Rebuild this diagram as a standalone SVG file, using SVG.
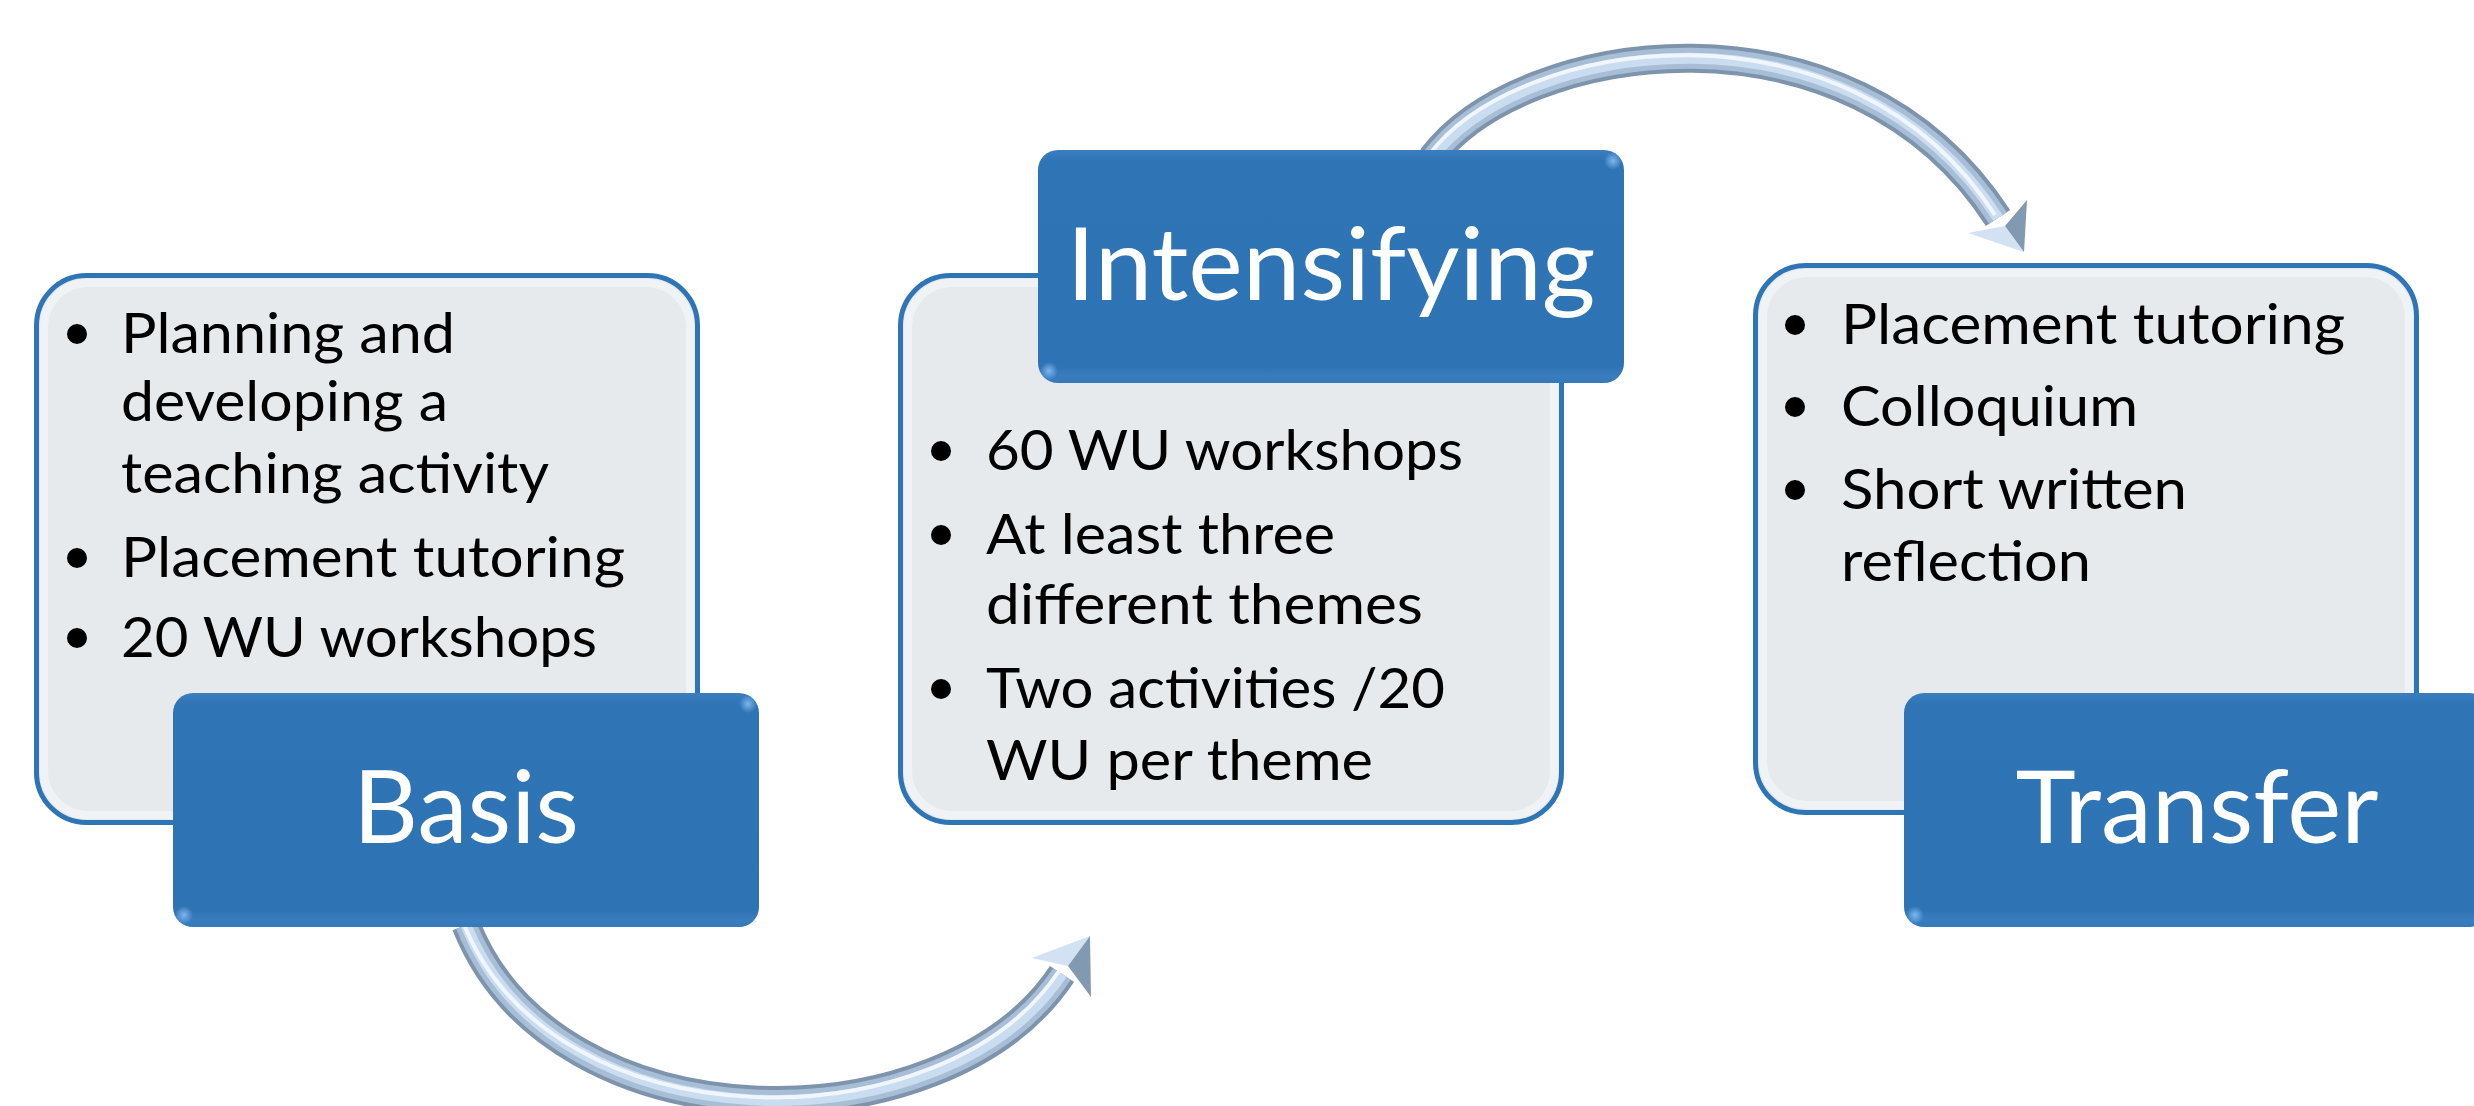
<svg xmlns="http://www.w3.org/2000/svg" width="2474" height="1106" viewBox="0 0 2474 1106">
  <defs>
    <style>
      .panel { fill: #E7EAED; stroke: #2E75B6; stroke-width: 5; }
      .panelGlow { fill: none; stroke: #F3F5F7; stroke-width: 8; opacity: 0.8; }
      .title { fill: url(#darkGrad); }
      .titleText { font-family: Lato, "Open Sans", "Liberation Sans", sans-serif; font-size: 100px; fill: #FFFFFF; text-anchor: middle; }
      .body { font-family: Lato, "Open Sans", "Liberation Sans", sans-serif; font-size: 57px; fill: #000000; }
      .bullet { fill: #000000; }
      .tube1 { fill: none; stroke: #7E94AC; stroke-width: 29; }
      .tube2 { fill: none; stroke: #A8BED7; stroke-width: 21; }
      .tube3 { fill: none; stroke: #CADCEF; stroke-width: 11; }
      .tube4 { fill: none; stroke: #F1F6FC; stroke-width: 4; }
      .headLight { fill: #D3E2F2; }
      .headDark { fill: #8299B2; }
      .glint { fill: url(#glintGrad); }
    </style>
    <linearGradient id="darkGrad" x1="0" y1="0" x2="0" y2="1">
      <stop offset="0" stop-color="#3A7EC0"/>
      <stop offset="0.05" stop-color="#2F74B4"/>
      <stop offset="0.93" stop-color="#2E73B3"/>
      <stop offset="0.97" stop-color="#3A7DBF"/>
      <stop offset="1" stop-color="#3479BA"/>
    </linearGradient>
    <radialGradient id="glintGrad">
      <stop offset="0" stop-color="#7DB6EE"/>
      <stop offset="1" stop-color="#7DB6EE" stop-opacity="0"/>
    </radialGradient>
  </defs>
  <rect x="0" y="0" width="2474" height="1106" fill="#FFFFFF"/>

  <g id="connectors">
    <g id="arrow-basis-intensifying">
      <path class="tube1" d="M 466 925 C 555 1150, 945 1150, 1062 974"/>
      <path class="tube2" d="M 466 925 C 555 1150, 945 1150, 1062 974"/>
      <path class="tube3" d="M 466 925 C 555 1150, 945 1150, 1062 974"/>
      <path class="tube4" d="M 466 925 C 555 1150, 945 1150, 1062 974" transform="translate(-3,-3)"/>
      <polygon class="headLight" points="1090,936 1032,958 1068,966"/>
      <polygon class="headDark" points="1090,936 1068,966 1091,997"/>
    </g>
    <g id="arrow-intensifying-transfer">
      <path class="tube1" d="M 1432 158 C 1520 40, 1850 -10, 1998 218"/>
      <path class="tube2" d="M 1432 158 C 1520 40, 1850 -10, 1998 218"/>
      <path class="tube3" d="M 1432 158 C 1520 40, 1850 -10, 1998 218"/>
      <path class="tube4" d="M 1432 158 C 1520 40, 1850 -10, 1998 218" transform="translate(-3,-3)"/>
      <polygon class="headLight" points="2024,252 1968,233 2005,226"/>
      <polygon class="headDark" points="2024,252 2005,226 2027,200"/>
    </g>
  </g>

  <g id="node-basis">
    <rect class="panel" x="36.5" y="275.5" width="661" height="547" rx="50"/>
    <rect class="panelGlow" x="44" y="283" width="646" height="532" rx="44"/>
    <circle class="bullet" cx="77" cy="334" r="10"/>
    <text class="body" x="121" y="353" textLength="334" lengthAdjust="spacingAndGlyphs">Planning and</text>
    <text class="body" x="121" y="421" textLength="327" lengthAdjust="spacingAndGlyphs">developing a</text>
    <text class="body" x="121" y="493" textLength="428" lengthAdjust="spacingAndGlyphs">teaching activity</text>
    <circle class="bullet" cx="77" cy="558" r="10"/>
    <text class="body" x="121" y="577" textLength="504" lengthAdjust="spacingAndGlyphs">Placement tutoring</text>
    <circle class="bullet" cx="77" cy="638" r="10"/>
    <text class="body" x="121" y="657" textLength="476" lengthAdjust="spacingAndGlyphs">20 WU workshops</text>
    <g id="title-basis">
      <rect class="title" x="173" y="693" width="586" height="234" rx="20"/>
      <circle class="glint" cx="748" cy="704" r="9"/>
      <circle class="glint" cx="184" cy="915" r="9"/>
      <text class="titleText" x="466" y="843" textLength="226" lengthAdjust="spacingAndGlyphs">Basis</text>
    </g>
  </g>

  <g id="node-intensifying">
    <rect class="panel" x="900.5" y="275.5" width="661" height="547" rx="50"/>
    <rect class="panelGlow" x="908" y="283" width="646" height="532" rx="44"/>
    <circle class="bullet" cx="941" cy="451" r="10"/>
    <text class="body" x="986" y="470" textLength="477" lengthAdjust="spacingAndGlyphs">60 WU workshops</text>
    <circle class="bullet" cx="941" cy="535" r="10"/>
    <text class="body" x="986" y="554" textLength="349" lengthAdjust="spacingAndGlyphs">At least three</text>
    <text class="body" x="986" y="624" textLength="437" lengthAdjust="spacingAndGlyphs">different themes</text>
    <circle class="bullet" cx="941" cy="689" r="10"/>
    <text class="body" x="986" y="708" textLength="459" lengthAdjust="spacingAndGlyphs">Two activities /20</text>
    <text class="body" x="986" y="780" textLength="387" lengthAdjust="spacingAndGlyphs">WU per theme</text>
    <g id="title-intensifying">
      <rect class="title" x="1038" y="150" width="586" height="233" rx="20"/>
      <circle class="glint" cx="1613" cy="161" r="9"/>
      <circle class="glint" cx="1049" cy="371" r="9"/>
      <text class="titleText" x="1331" y="300" textLength="529" lengthAdjust="spacingAndGlyphs">Intensifying</text>
    </g>
  </g>

  <g id="node-transfer">
    <rect class="panel" x="1755.5" y="265.5" width="661" height="547" rx="50"/>
    <rect class="panelGlow" x="1763" y="273" width="646" height="532" rx="44"/>
    <circle class="bullet" cx="1795" cy="325" r="10"/>
    <text class="body" x="1841" y="344" textLength="504" lengthAdjust="spacingAndGlyphs">Placement tutoring</text>
    <circle class="bullet" cx="1795" cy="407" r="10"/>
    <text class="body" x="1841" y="426" textLength="297" lengthAdjust="spacingAndGlyphs">Colloquium</text>
    <circle class="bullet" cx="1795" cy="490" r="10"/>
    <text class="body" x="1841" y="509" textLength="346" lengthAdjust="spacingAndGlyphs">Short written</text>
    <text class="body" x="1841" y="581" textLength="250" lengthAdjust="spacingAndGlyphs">reflection</text>
    <g id="title-transfer">
      <rect class="title" x="1904" y="693" width="586" height="234" rx="20"/>
      <circle class="glint" cx="1915" cy="915" r="9"/>
      <text class="titleText" x="2197" y="843" textLength="363" lengthAdjust="spacingAndGlyphs">Transfer</text>
    </g>
  </g>
</svg>
